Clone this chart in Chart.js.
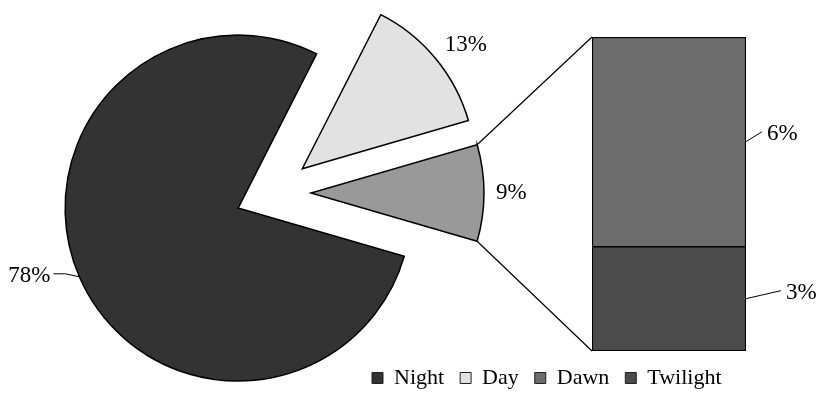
<!DOCTYPE html>
<html>
<head>
<meta charset="utf-8">
<title>Time of day</title>
<script src="https://cdn.jsdelivr.net/npm/chart.js@4.4.1/dist/chart.umd.min.js"></script>
<style>
  html, body { margin: 0; padding: 0; background: #fff; }
  #wrap { position: relative; width: 819px; height: 399px; }
  #wrap canvas { position: absolute; left: 0; top: 0; }
</style>
</head>
<body>
<div id="wrap">
  <canvas id="pieChart" width="819" height="399"></canvas>
  <canvas id="barChart" width="819" height="399"></canvas>
</div>
<script>
// share of the day, percent
const pieLabels = ['Night', 'Day', 'Other'];
const pieValues = [78, 13, 9];
const pieColors = ['#333333', '#e2e2e2', '#999999'];

// the "Other" slice broken out into a stacked bar (bottom to top)
const barLabels = ['Twilight', 'Dawn'];
const barValues = [3, 6];
const barColors = ['#4b4b4b', '#6c6c6c'];

const legendOrder = ['Night', 'Day', 'Dawn', 'Twilight'];

const FONT = '"Liberation Serif", "Times New Roman", serif';
const EXPLODE = 38;

// move each slice out along its middle angle
const explodeSlices = {
    id: 'explodeSlices',
    afterDatasetUpdate(chart, args) {
        args.meta.data.forEach(arc => {
            const mid = (arc.startAngle + arc.endAngle) / 2;
            arc.x += Math.cos(mid) * EXPLODE;
            arc.y += Math.sin(mid) * EXPLODE;
        });
    }
};

// percent labels round the pie
const sliceLabels = {
    id: 'sliceLabels',
    afterDatasetsDraw(chart) {
        const ctx = chart.ctx;
        const arcs = chart.getDatasetMeta(0).data;
        ctx.save();
        ctx.font = '23px ' + FONT;
        ctx.fillStyle = '#000';
        ctx.strokeStyle = '#000';
        ctx.lineWidth = 1;
        arcs.forEach((arc, i) => {
            const mid = (arc.startAngle + arc.endAngle) / 2;
            const cos = Math.cos(mid), sin = Math.sin(mid);
            const r = arc.outerRadius;
            const text = pieValues[i] + '%';
            if (cos < -0.5) {
                // bent leader line out to the left
                const px = arc.x + cos * r, py = arc.y + sin * r;
                const ex = px - 14, ey = py - 3;
                ctx.beginPath();
                ctx.moveTo(px, py);
                ctx.lineTo(ex, ey);
                ctx.lineTo(ex - 12, ey);
                ctx.stroke();
                ctx.textAlign = 'right';
                ctx.textBaseline = 'middle';
                ctx.fillText(text, ex - 15, ey + 2);
            } else {
                const ax = arc.x + cos * (r + 12), ay = arc.y + sin * (r + 12);
                ctx.textAlign = cos > 0.1 ? 'left' : (cos < -0.1 ? 'right' : 'center');
                ctx.textBaseline = sin < -0.1 ? 'alphabetic' : (sin > 0.1 ? 'top' : 'middle');
                ctx.fillText(text, ax, ay);
            }
        });
        ctx.restore();
    }
};

const pieChart = new Chart(document.getElementById('pieChart'), {
    type: 'pie',
    data: {
        labels: pieLabels,
        datasets: [{
            data: pieValues,
            backgroundColor: pieColors,
            borderColor: '#000',
            borderWidth: 1.5,
            borderJoinStyle: 'miter',
            clip: false
        }]
    },
    options: {
        responsive: false,
        animation: false,
        events: [],
        radius: 173,
        rotation: 106.2,
        layout: { padding: { left: 0, right: 273, top: 0, bottom: 13 } },
        plugins: {
            legend: { display: false },
            tooltip: { enabled: false }
        }
    },
    plugins: [explodeSlices, sliceLabels]
});

// lines from the "Other" slice to the bar, plus the bar's percent labels
const barExtras = {
    id: 'barExtras',
    afterDatasetsDraw(chart, args, opts) {
        const ctx = chart.ctx;
        const arc = pieChart.getDatasetMeta(0).data[2];
        const lowBar = chart.getDatasetMeta(0).data[0];
        const topBar = chart.getDatasetMeta(1).data[0];
        const left = topBar.x - topBar.width / 2;
        const right = topBar.x + topBar.width / 2;

        ctx.save();
        ctx.strokeStyle = '#000';
        ctx.lineWidth = 1.2;
        ctx.beginPath();
        ctx.moveTo(arc.x + arc.outerRadius * Math.cos(arc.startAngle), arc.y + arc.outerRadius * Math.sin(arc.startAngle));
        ctx.lineTo(left, topBar.y);
        ctx.moveTo(arc.x + arc.outerRadius * Math.cos(arc.endAngle), arc.y + arc.outerRadius * Math.sin(arc.endAngle));
        ctx.lineTo(left, lowBar.base);
        ctx.stroke();

        ctx.font = '23px ' + FONT;
        ctx.fillStyle = '#000';
        ctx.lineWidth = 1;
        ctx.textAlign = 'left';
        ctx.textBaseline = 'middle';
        barValues.forEach((v, i) => {
            const bar = chart.getDatasetMeta(i).data[0];
            const midY = (bar.y + bar.base) / 2;
            const lead = opts.leaders[i];
            const ex = right + lead.dx, ey = midY + lead.dy;
            ctx.beginPath();
            ctx.moveTo(right, midY);
            ctx.lineTo(ex, ey);
            ctx.stroke();
            ctx.fillText(v + '%', ex + 5, ey + 2);
        });
        ctx.restore();
    }
};

const barChart = new Chart(document.getElementById('barChart'), {
    type: 'bar',
    data: {
        labels: ['Other'],
        datasets: barLabels.map((name, i) => ({
            label: name,
            data: [barValues[i]],
            backgroundColor: barColors[i],
            borderColor: '#000',
            borderWidth: i === 0 ? 1.5 : { top: 1.5, left: 1.5, right: 1.5, bottom: 0 },
            borderSkipped: false,
            barPercentage: 1,
            categoryPercentage: 1
        }))
    },
    options: {
        responsive: false,
        animation: false,
        events: [],
        layout: { padding: { left: 356, right: 73, top: 37, bottom: 0 } },
        scales: {
            x: { stacked: true, display: false },
            y: {
                stacked: true,
                min: 0,
                max: 9,
                grid: { display: false },
                border: { display: false },
                ticks: { display: false },
                // keeps the bar over on the right while the legend starts further left
                afterFit: scale => { scale.width = 236; }
            }
        },
        plugins: {
            tooltip: { enabled: false },
            legend: {
                position: 'bottom',
                align: 'start',
                labels: {
                    boxWidth: 11,
                    boxHeight: 11,
                    padding: 16,
                    color: '#000',
                    font: { family: FONT, size: 22 },
                    generateLabels: () => legendOrder.map(name => {
                        const pi = pieLabels.indexOf(name);
                        const color = pi >= 0 ? pieColors[pi] : barColors[barLabels.indexOf(name)];
                        return { text: name, fillStyle: color, strokeStyle: '#222', lineWidth: 1, hidden: false, fontColor: '#000' };
                    })
                }
            },
            barExtras: {
                leaders: [{ dx: 35, dy: -8 }, { dx: 16, dy: -10 }]
            }
        }
    },
    plugins: [barExtras]
});
</script>
</body>
</html>
